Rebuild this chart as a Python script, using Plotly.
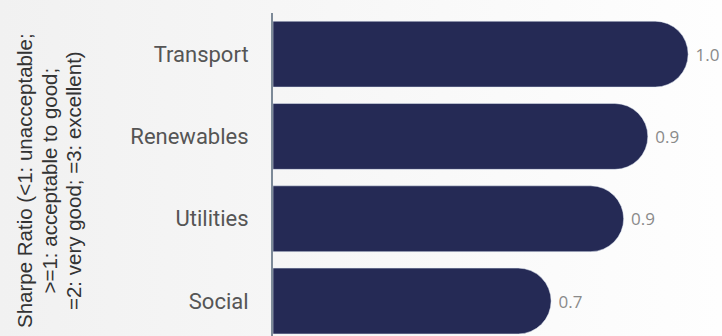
import base64
import plotly.graph_objects as go

# categories listed bottom -> top
sectors = ['Social', 'Utilities', 'Renewables', 'Transport']
sharpe = [0.69, 0.87, 0.93, 1.03]

title_lines = [
    'Sharpe Ratio (&lt;1: unacceptable;',
    '&gt;=1: acceptable to good;',
    '=2: very good; =3: excellent)',
]

W, H = 722, 336
L, T = 273, 13
plot_w, plot_h = W - L, H - T

# soft grey-to-white page background
svg = (
    '<svg xmlns="http://www.w3.org/2000/svg" width="722" height="336">'
    '<defs><linearGradient id="g" x1="0" y1="0" x2="1" y2="0">'
    '<stop offset="0" stop-color="#f1f1f1"/><stop offset="1" stop-color="#fefefe"/>'
    '</linearGradient></defs><rect width="722" height="336" fill="url(#g)"/></svg>'
)
bg = 'data:image/svg+xml;base64,' + base64.b64encode(svg.encode()).decode()

fig = go.Figure()
fig.add_trace(go.Bar(
    x=sharpe,
    y=sectors,
    orientation='h',
    marker=dict(color='#252a55', cornerradius='50%'),
    texttemplate='\u00a0%{x:.1f}',
    textposition='outside',
    constraintext='none',
    textfont=dict(family='Open Sans', size=17, color='#8a8a8a'),
    cliponaxis=False,
    hoverinfo='skip',
))

# axis title, one annotation per line so the line spacing can be tight
for i, line in enumerate(title_lines):
    cx = 24 + i * 24.5
    fig.add_annotation(
        text=line,
        textangle=-90,
        xref='paper', yref='paper',
        x=(cx - L) / plot_w, y=1 - (181 - T) / plot_h,
        xanchor='center', yanchor='middle',
        showarrow=False,
        font=dict(family='Liberation Sans, Arial', size=20.5, color='#333333'),
    )

fig.update_layout(
    width=W,
    height=H,
    margin=dict(l=L, r=0, t=T, b=0, autoexpand=False),
    paper_bgcolor='#f8f8f8',
    plot_bgcolor='rgba(0,0,0,0)',
    bargap=0.2,
    showlegend=False,
    images=[dict(source=bg, xref='paper', yref='paper', x=-L / plot_w, y=H / plot_h,
                 sizex=W / plot_w, sizey=H / plot_h, sizing='stretch', layer='below',
                 xanchor='left', yanchor='top')],
)
fig.update_xaxes(range=[0, 1.114], showgrid=False, zeroline=False,
                 showticklabels=False, showline=False, automargin=False)
fig.update_yaxes(range=[-0.425, 3.5], showgrid=False, zeroline=False,
                 showline=True, linecolor='#7d8a98', linewidth=2,
                 ticks='', ticklabelstandoff=18, automargin=False,
                 tickfont=dict(family='Roboto', size=22, color='#555555'))

fig.write_html('out.html', config={'displayModeBar': False},
               post_script="document.body.style.margin='0';")
